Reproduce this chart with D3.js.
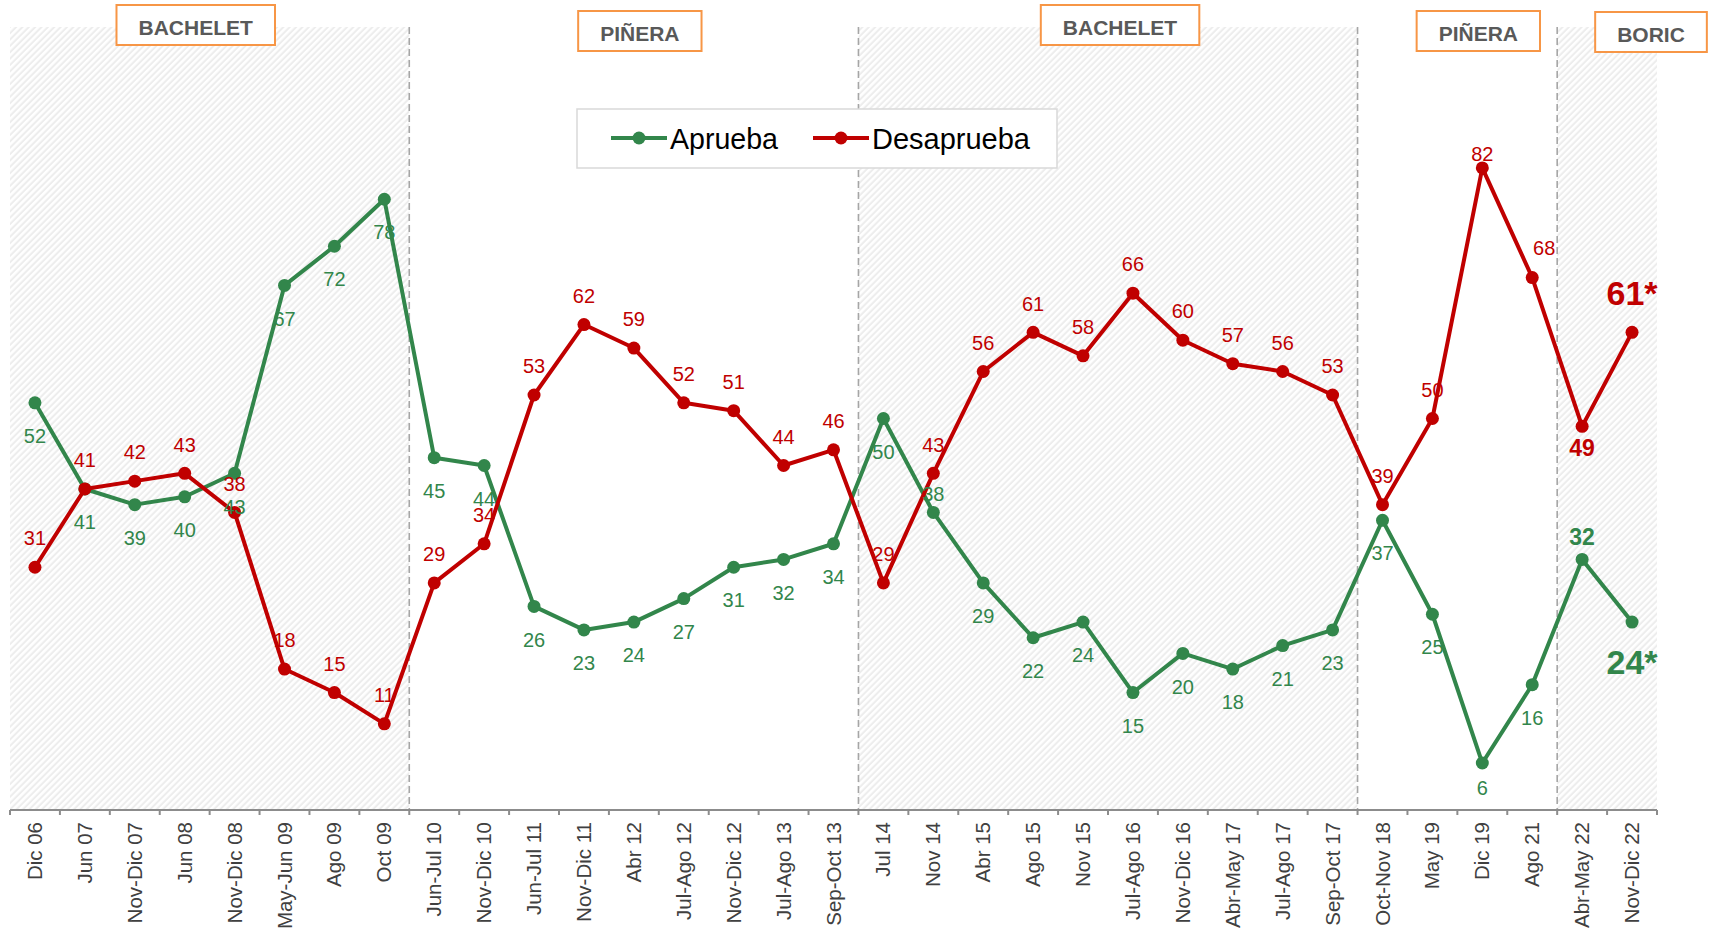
<!DOCTYPE html>
<html>
<head>
<meta charset="utf-8">
<script src="https://cdn.jsdelivr.net/npm/d3@7/dist/d3.min.js"></script>
<style>
  html, body { margin: 0; padding: 0; background: #fff; }
  svg { display: block; font-family: "Liberation Sans", Arial, sans-serif; }
</style>
</head>
<body>
<svg id="chart" width="1714" height="934"></svg>
<script>
// ---------- DATA ----------
const categories = ["Dic 06","Jun 07","Nov-Dic 07","Jun 08","Nov-Dic 08","May-Jun 09","Ago 09","Oct 09",
  "Jun-Jul 10","Nov-Dic 10","Jun-Jul 11","Nov-Dic 11","Abr 12","Jul-Ago 12","Nov-Dic 12","Jul-Ago 13","Sep-Oct 13",
  "Jul 14","Nov 14","Abr 15","Ago 15","Nov 15","Jul-Ago 16","Nov-Dic 16","Abr-May 17","Jul-Ago 17","Sep-Oct 17",
  "Oct-Nov 18","May 19","Dic 19","Ago 21","Abr-May 22","Nov-Dic 22"];
const aprueba    = [52,41,39,40,43,67,72,78,45,44,26,23,24,27,31,32,34,50,38,29,22,24,15,20,18,21,23,37,25,6,16,32,24];
const desaprueba = [31,41,42,43,38,18,15,11,29,34,53,62,59,52,51,44,46,29,43,56,61,58,66,60,57,56,53,39,50,82,68,49,61];
const seriesNames = ["Aprueba","Desaprueba"];
// presidential periods: name, first and last category index, shaded or not
const periodNames  = ["BACHELET","PIÑERA","BACHELET","PIÑERA","BORIC"];
const periodStart  = [0, 8, 17, 27, 31];
const periodEnd    = [7, 16, 26, 30, 32];
const periodShaded = [true, false, true, false, true];

// ---------- LAYOUT / STYLE ----------
const GREEN = "#32864B", RED = "#C00000";
const svg = d3.select("#chart");
const x = d3.scaleBand().domain(categories).range([10, 1657]);
const y = d3.scaleLinear().domain([0, 100]).range([810, 27]);
const cx = d => x(d) + x.bandwidth() / 2;

// label placement (style only)
const apruebaPos = categories.map((c, i) => i === 18 ? "nearAbove" : i === 29 ? "nearBelow" : i === 31 ? "boldAbove" : i === 32 ? "bigBelow" : "below");
const desapruebaPos = categories.map((c, i) => i === 29 ? "top" : i === 30 ? "aboveRight" : i === 31 ? "boldBelow" : i === 32 ? "bigAbove" : "above");
const posStyle = {
  below:     {dy: 33,  dx: 0,  size: 20, weight: "normal"},
  above:     {dy: -29, dx: 0,  size: 20, weight: "normal"},
  aboveRight:{dy: -30, dx: 12, size: 20, weight: "normal"},
  nearAbove: {dy: -19, dx: 0,  size: 20, weight: "normal"},
  nearBelow: {dy: 25,  dx: 0,  size: 20, weight: "normal"},
  top:       {dy: -14, dx: 0,  size: 20, weight: "normal"},
  boldAbove: {dy: -23, dx: 0,  size: 23, weight: "bold"},
  boldBelow: {dy: 21,  dx: 0,  size: 23, weight: "bold"},
  bigAbove:  {dy: -40, dx: 0,  size: 34, weight: "bold"},
  bigBelow:  {dy: 40,  dx: 0,  size: 34, weight: "bold"}
};

// pattern
const defs = svg.append("defs");
const pat = defs.append("pattern").attr("id", "hatch").attr("patternUnits", "userSpaceOnUse")
  .attr("width", 4.5).attr("height", 4.5).attr("patternTransform", "rotate(45)");
pat.append("rect").attr("width", 4.5).attr("height", 4.5).attr("fill", "#ededed");
pat.append("line").attr("x1", 1.2).attr("x2", 1.2).attr("y1", 0).attr("y2", 4.5)
  .attr("stroke", "#ffffff").attr("stroke-width", 2.5);

// shaded periods
const periods = periodNames.map((n, i) => ({name: n, s: periodStart[i], e: periodEnd[i], shaded: periodShaded[i]}));
svg.append("g").selectAll("rect").data(periods.filter(p => p.shaded)).join("rect")
  .attr("x", p => x(categories[p.s]))
  .attr("width", p => x(categories[p.e]) + x.bandwidth() - x(categories[p.s]))
  .attr("y", y(100)).attr("height", y(0) - y(100))
  .attr("fill", "url(#hatch)");

// dashed separators
svg.append("g").selectAll("line").data(periods.slice(1)).join("line")
  .attr("x1", p => x(categories[p.s])).attr("x2", p => x(categories[p.s]))
  .attr("y1", y(100)).attr("y2", y(0))
  .attr("stroke", "#a6a6a6").attr("stroke-width", 1.6).attr("stroke-dasharray", "7,4");

// x axis
const axisG = svg.append("g").attr("transform", `translate(0,${y(0)})`);
axisG.append("line").attr("x1", 10).attr("x2", 1657).attr("y1", 0).attr("y2", 0)
  .attr("stroke", "#8c8c8c").attr("stroke-width", 2);
const bounds = categories.map(c => x(c)).concat([x(categories[categories.length - 1]) + x.bandwidth()]);
axisG.selectAll("line.tick").data(bounds).join("line").attr("class", "tick")
  .attr("x1", d => d).attr("x2", d => d).attr("y1", 0).attr("y2", 5)
  .attr("stroke", "#8c8c8c").attr("stroke-width", 2);
axisG.selectAll("text").data(categories).join("text")
  .attr("transform", d => `translate(${cx(d) + 7},12) rotate(-90)`)
  .attr("text-anchor", "end")
  .attr("font-size", 20.5).attr("fill", "#404040")
  .text(d => d);

// lines
const line = d3.line().x((d, i) => cx(categories[i])).y(d => y(d));
const series = [
  {name: seriesNames[0], values: aprueba, color: GREEN, pos: apruebaPos},
  {name: seriesNames[1], values: desaprueba, color: RED, pos: desapruebaPos}
];
series.forEach(s => {
  svg.append("path").datum(s.values).attr("d", line)
    .attr("fill", "none").attr("stroke", s.color).attr("stroke-width", 4).attr("stroke-linejoin", "round");
  svg.append("g").selectAll("circle").data(s.values).join("circle")
    .attr("cx", (d, i) => cx(categories[i])).attr("cy", d => y(d)).attr("r", 6.5).attr("fill", s.color);
});
series.forEach(s => {
  svg.append("g").selectAll("text").data(s.values).join("text")
    .each(function(d, i) {
      const st = posStyle[s.pos[i]];
      d3.select(this)
        .attr("x", cx(categories[i]) + st.dx)
        .attr("y", y(d) + st.dy + st.size * 0.36)
        .attr("text-anchor", "middle")
        .attr("font-size", st.size).attr("font-weight", st.weight)
        .attr("fill", s.color)
        .text(d + (i === categories.length - 1 ? "*" : ""));
    });
});

// legend
const lg = svg.append("g").attr("transform", "translate(577,109)");
lg.append("rect").attr("width", 480).attr("height", 59).attr("fill", "#fff")
  .attr("stroke", "#d9d9d9").attr("stroke-width", 1.5);
const legendX = [34, 236];
series.forEach((s, i) => {
  const g = lg.append("g").attr("transform", `translate(${legendX[i]},29)`);
  g.append("line").attr("x1", 0).attr("x2", 56).attr("stroke", s.color).attr("stroke-width", 4);
  g.append("circle").attr("cx", 28).attr("r", 6.5).attr("fill", s.color);
  g.append("text").attr("x", 59).attr("y", 10.5).attr("font-size", 29).attr("fill", "#000")
    .attr("textLength", i === 0 ? 108 : 158).attr("lengthAdjust", "spacingAndGlyphs")
    .text(s.name);
});

// period label boxes (centre in band units, top y)
const boxCenter = [3.72, 12.62, 22.24, 29.42, 32.88];
const boxTop = [5, 11, 5, 11, 12];
const step = x.step();
periods.forEach((p, i) => {
  const g = svg.append("g");
  const t = g.append("text").attr("x", 10 + boxCenter[i] * step).attr("y", boxTop[i] + 30)
    .attr("text-anchor", "middle").attr("font-size", 21).attr("font-weight", "bold")
    .attr("fill", "#595959").text(p.name);
  const bb = t.node().getBBox();
  g.insert("rect", "text").attr("x", bb.x - 22).attr("y", boxTop[i])
    .attr("width", bb.width + 44).attr("height", 40)
    .attr("fill", "#fff").attr("stroke", "#F79646").attr("stroke-width", 2);
});
</script>
</body>
</html>
